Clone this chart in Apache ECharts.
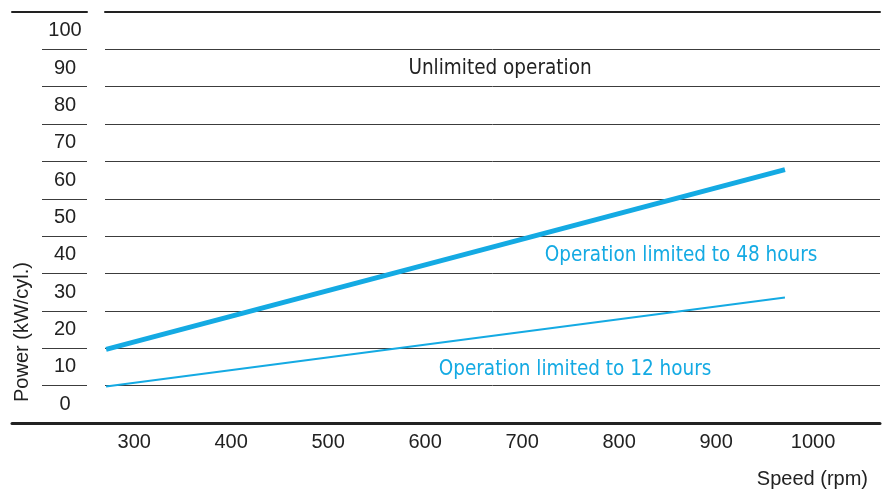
<!DOCTYPE html>
<html>
<head>
<meta charset="utf-8">
<script src="https://cdn.jsdelivr.net/npm/echarts@6/dist/echarts.min.js"></script>
<style>
html,body{margin:0;padding:0;background:#fff;}
#chart{width:895px;height:491px;}
</style>
</head>
<body>
<div id="chart"></div>
<script>
// Data
const speed = [271, 971];
const limit48 = [14.7, 62.8];
const limit12 = [4.8, 28.6];
const xTicks = [300, 400, 500, 600, 700, 800, 900, 1000];
const yTicks = [0, 10, 20, 30, 40, 50, 60, 70, 80, 90, 100];

const BLUE = '#14aae3';
const DARK = '#222222';
const LINE = '#3c3c3c';
const LABEL_FONT = "'Liberation Sans', Arial, sans-serif";
const NARROW_FONT = "'Liberation Sans Narrow', 'DejaVu Sans Condensed', sans-serif";

const chart = echarts.init(document.getElementById('chart'), null, {renderer: 'canvas'});

const option = {
  animation: false,
  backgroundColor: '#ffffff',
  grid: [
    {left: 12, right: 15, top: 12, bottom: 68},   // 0 main plot (bottom axis spans full width)
    {left: 105, right: 15, top: 12, bottom: 68},  // 1 horizontal rules in plot
    {left: 42, width: 45, top: 12, bottom: 68},   // 2 label column rules
    {left: 12, width: 75, top: 12, bottom: 68}    // 3 top rule on the left
  ],
  xAxis: [
    {
      gridIndex: 0, type: 'value', min: 174, max: 1069,
      axisLine: {show: true, onZero: false, lineStyle: {color: DARK, width: 3}},
      axisTick: {show: false},
      splitLine: {show: false},
      axisLabel: {customValues: xTicks, formatter: v => String(v), color: DARK, fontSize: 20, fontFamily: LABEL_FONT, margin: 9}
    },
    {
      gridIndex: 1, type: 'value', min: 0, max: 1, position: 'top',
      axisLine: {show: true, onZero: false, lineStyle: {color: DARK, width: 2}},
      axisTick: {show: false}, axisLabel: {show: false}, splitLine: {show: false}
    },
    {
      gridIndex: 2, type: 'value', min: 0, max: 1, show: false
    },
    {
      gridIndex: 3, type: 'value', min: 0, max: 1, position: 'top',
      axisLine: {show: true, onZero: false, lineStyle: {color: DARK, width: 2}},
      axisTick: {show: false}, axisLabel: {show: false}, splitLine: {show: false}
    }
  ],
  yAxis: [
    {
      gridIndex: 0, type: 'value', min: -5, max: 105,
      axisLine: {show: false}, axisTick: {show: false}, axisLabel: {show: false}, splitLine: {show: false}
    },
    {
      gridIndex: 1, type: 'value', min: 0, max: 110, interval: 10,
      axisLine: {show: false}, axisTick: {show: false}, axisLabel: {show: false},
      splitLine: {show: true, lineStyle: {color: LINE, width: 1}}
    },
    {
      gridIndex: 2, type: 'value', min: 0, max: 110, interval: 10,
      axisLine: {show: false}, axisTick: {show: false}, axisLabel: {show: false},
      splitLine: {show: true, lineStyle: {color: LINE, width: 1}}
    },
    {
      gridIndex: 2, type: 'value', min: -5, max: 105,
      axisLine: {show: false}, axisTick: {show: false}, splitLine: {show: false},
      axisLabel: {customValues: yTicks, formatter: v => String(v), inside: true, margin: 22, align: 'center',
        color: DARK, fontSize: 20, fontFamily: LABEL_FONT}
    },
    {
      gridIndex: 3, type: 'value', min: 0, max: 1, show: false
    }
  ],
  series: [
    {
      name: 'Operation limited to 48 hours', type: 'line', xAxisIndex: 0, yAxisIndex: 0,
      data: speed.map((s, i) => [s, limit48[i]]),
      showSymbol: false, lineStyle: {color: BLUE, width: 5, cap: 'butt'}, z: 5
    },
    {
      name: 'Operation limited to 12 hours', type: 'line', xAxisIndex: 0, yAxisIndex: 0,
      data: speed.map((s, i) => [s, limit12[i]]),
      showSymbol: false, lineStyle: {color: BLUE, width: 2, cap: 'butt'}, z: 5
    }
  ],
  graphic: [
    {type: 'text', x: 500, y: 69, style: {text: 'Unlimited operation', fill: DARK, font: '20.5px ' + NARROW_FONT, textAlign: 'center', textVerticalAlign: 'middle'}},
    {type: 'text', x: 681, y: 256, style: {text: 'Operation limited to 48 hours', fill: BLUE, font: '20.5px ' + NARROW_FONT, textAlign: 'center', textVerticalAlign: 'middle'}},
    {type: 'text', x: 575, y: 370, style: {text: 'Operation limited to 12 hours', fill: BLUE, font: '20.5px ' + NARROW_FONT, textAlign: 'center', textVerticalAlign: 'middle'}},
    {type: 'text', x: 868, y: 479, style: {text: 'Speed (rpm)', fill: DARK, font: '20px ' + LABEL_FONT, textAlign: 'right', textVerticalAlign: 'middle'}},
    {type: 'text', x: 22, y: 332, rotation: Math.PI / 2, style: {text: 'Power (kW/cyl.)', fill: DARK, font: '20px ' + LABEL_FONT, textAlign: 'center', textVerticalAlign: 'middle'}}
  ]
};
chart.setOption(option);
</script>
</body>
</html>
